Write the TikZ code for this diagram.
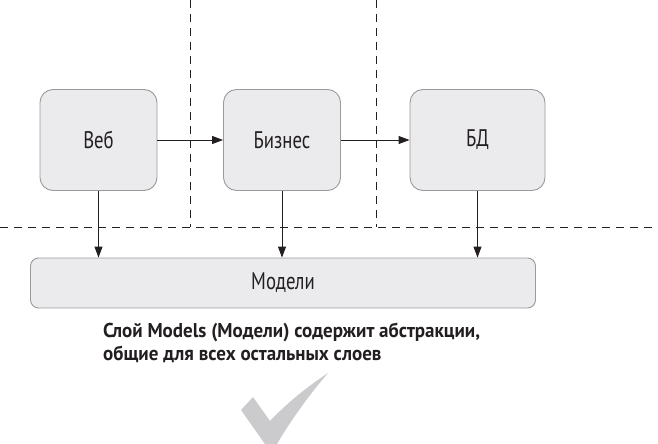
\documentclass[tikz,border=0pt]{standalone}
\usepackage{fontspec}
\setmainfont{PT Sans}
\newfontfamily\labelfont{PT Sans}[FakeStretch=0.78]
\newfontfamily\notefont{PT Sans}[FakeStretch=0.95]
\usetikzlibrary{arrows.meta,positioning}

\definecolor{boxfill}{HTML}{EBEBED}
\definecolor{boxline}{HTML}{9A9A9C}
\definecolor{ink}{HTML}{231F20}
\definecolor{tick}{HTML}{CBCBCD}

\tikzset{
  layer/.style={draw=boxline, fill=boxfill, line width=0.9pt, rounded corners=13pt,
    minimum width=117pt, minimum height=101pt, inner sep=0pt,
    font=\labelfont\fontsize{24}{26}\selectfont, text=ink},
  flow/.style={-{Triangle[length=11pt,width=8pt]}, line width=0.9pt, draw=ink},
  border/.style={dash pattern=on 8pt off 6pt, line width=0.8pt, draw=ink}
}

\begin{document}
\begin{tikzpicture}[x=1pt,y=-1pt]
	\useasboundingbox (0,0) rectangle (658,444);

	% layer boxes
	\node[layer] (web) at (98.5,140) {Веб};
	\node[layer] (biz) at (282,140) {Бизнес};
	\node[layer, minimum width=135pt] (db) at (477.5,140) {БД};
	\node[layer, minimum width=505pt, minimum height=50pt, rounded corners=8pt] (models) at (283,283) {Модели};

	% dashed borders
	\coordinate (lineL) at (0,227);
	\coordinate (lineR) at (658,227);
	\coordinate (cut1) at (190,0);
	\coordinate (cut2) at (376,0);
	\draw[border] (lineL) -- (lineR);
	\draw[border] (cut1) -- (cut1 |- lineL);
	\draw[border] (cut2) -- (cut2 |- lineL);

	% arrows
	\draw[flow] (web) -- (biz);
	\draw[flow] (biz) -- (db);
	\foreach \n in {web,biz,db}
		\draw[flow] (\n.south) -- (\n.south |- models.north);

	% caption
	\node[anchor=base west, align=left, inner sep=0pt, text=ink,
		font=\notefont\fontsize{20}{23}\selectfont\bfseries] (note) at (103,360)
		{Слой Models (Модели) содержит абстракции,\\общие для всех остальных слоев};

	% tick
	\fill[tick] (241,410) -- (253,397) -- (270,421)
		.. controls (290,400) and (310,385) .. (328,373)
		.. controls (305,400) and (288,425) .. (277,444)
		-- (265,444) -- cycle;
\end{tikzpicture}
\end{document}
